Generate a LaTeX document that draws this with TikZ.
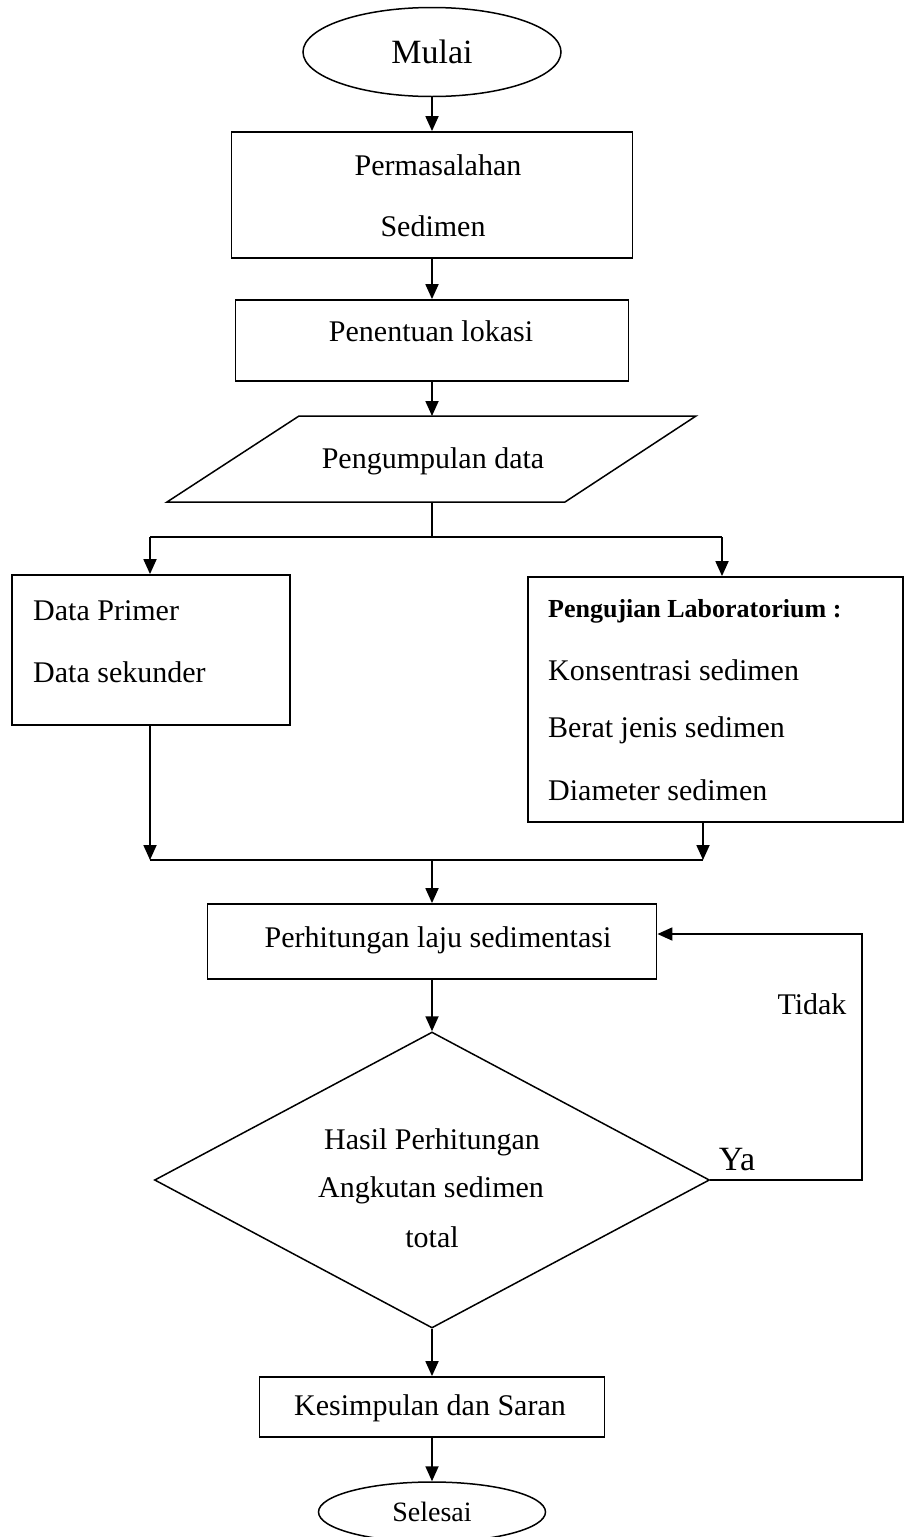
\documentclass[tikz,border=0pt]{standalone}
\usepackage{fontspec}
\setmainfont{Liberation Serif}
\usetikzlibrary{shapes.geometric,arrows.meta}
\begin{document}
\begin{tikzpicture}[x=1pt,y=-1pt,
  box/.style={draw,line width=1.8pt,rectangle,inner sep=0pt},
  oval/.style={draw,line width=1.5pt,ellipse,inner sep=0pt},
  arr/.style={line width=1.8pt,-{Triangle[length=15pt,width=13pt]}},
  ln/.style={line width=1.8pt},
  txt/.style={font=\fontsize{30}{36}\selectfont,inner sep=0pt},
  bigtxt/.style={font=\fontsize{34}{40}\selectfont,inner sep=0pt}]
\useasboundingbox (0,0) rectangle (904,1537);

% Mulai
\node[oval,minimum width=258pt,minimum height=89pt,font=\fontsize{34}{40}\selectfont] (mulai) at (432,52) {Mulai};

% Permasalahan Sedimen
\node[box,minimum width=401pt,minimum height=126pt] (perm) at (432,195) {};
\node[txt] (perm1) at (438,165) {Permasalahan};
\node[txt] (perm2) at (433,226) {Sedimen};

% Penentuan lokasi
\node[box,minimum width=393pt,minimum height=81pt] (pen) at (432,340.5) {};
\node[txt] (pen1) at (431,331) {Penentuan lokasi};

% Pengumpulan data (parallelogram)
\coordinate (p1) at (299,416);
\coordinate (p2) at (696,416);
\coordinate (p3) at (565,502);
\coordinate (p4) at (167,502);
\draw[line width=1.5pt] (p1) -- (p2) -- (p3) -- (p4) -- cycle;
\node[txt] (peng) at (433,461) {Pengumpulan data};
\coordinate (partop) at (432,416);
\coordinate (parbot) at (432,502);

% Left box
\node[box,minimum width=278pt,minimum height=150pt] (left) at (151,650) {};
\node[txt,anchor=west] (dp) at (33,611) {Data Primer};
\node[txt,anchor=west] (ds) at (33,672) {Data sekunder};

% Right box
\node[box,minimum width=375pt,minimum height=245pt] (right) at (715.5,699.5) {};
\node[font=\fontsize{26}{30}\selectfont\bfseries,inner sep=0pt,anchor=west] (lab) at (548,611) {Pengujian Laboratorium :};
\node[txt,anchor=west] (k1) at (548,670) {Konsentrasi sedimen};
\node[txt,anchor=west] (k2) at (548,730) {Berat jenis sedimen};
\node[txt,anchor=west] (k3) at (548,790) {Diameter sedimen};

% Perhitungan laju sedimentasi
\node[box,minimum width=449pt,minimum height=75pt] (perh) at (432,941.5) {};
\node[txt] (perh1) at (438,940) {Perhitungan laju sedimentasi};

% Diamond
\node[draw,line width=1.5pt,diamond,minimum width=555pt,minimum height=296pt,inner sep=0pt] (dia) at (432,1180) {};
\node[txt] (d1) at (432,1142) {Hasil Perhitungan};
\node[txt] (d2) at (431,1190) {Angkutan sedimen};
\node[txt] (d3) at (432,1237) {total};

\node[bigtxt] (ya) at (737,1160) {Ya};
\node[txt] (tidak) at (812,1004) {Tidak};

% Kesimpulan
\node[box,minimum width=345pt,minimum height=60pt] (kes) at (432,1407) {};
\node[txt] (kes1) at (430,1408) {Kesimpulan dan Saran};

% Selesai
\node[oval,minimum width=227pt,minimum height=60pt,font=\fontsize{28}{34}\selectfont] (sel) at (432,1512) {Selesai};

% connectors
\draw[arr] (mulai.south) -- (perm.north);
\draw[arr] (perm.south) -- (pen.north);
\draw[arr] (pen.south) -- (partop);

\coordinate (j1) at (432,537);
\coordinate (j1l) at (150,537);
\coordinate (j1r) at (722,537);
\draw[ln] (parbot) -- (j1);
\draw[ln] (j1l) -- (j1r);
\draw[arr] (j1l) -- (left.north -| j1l);
\draw[arr] (j1r) -- (right.north -| j1r);

\coordinate (j2) at (432,860);
\coordinate (j2l) at (150,860);
\coordinate (j2r) at (703,860);
\draw[arr] (left.south -| j2l) -- (j2l);
\draw[arr] (right.south -| j2r) -- (j2r);
\draw[ln] (j2l) -- (j2r);
\draw[arr] (j2) -- (perh.north);

\draw[arr] (perh.south) -- (dia.north);

\coordinate (lp1) at (862,1180);
\coordinate (lp2) at (862,934);
\draw[arr] (dia.east) -- (lp1) -- (lp2) -- (perh.east |- lp2);

\draw[arr] (dia.south) -- (kes.north);
\draw[arr] (kes.south) -- (sel.north);
\end{tikzpicture}
\end{document}
